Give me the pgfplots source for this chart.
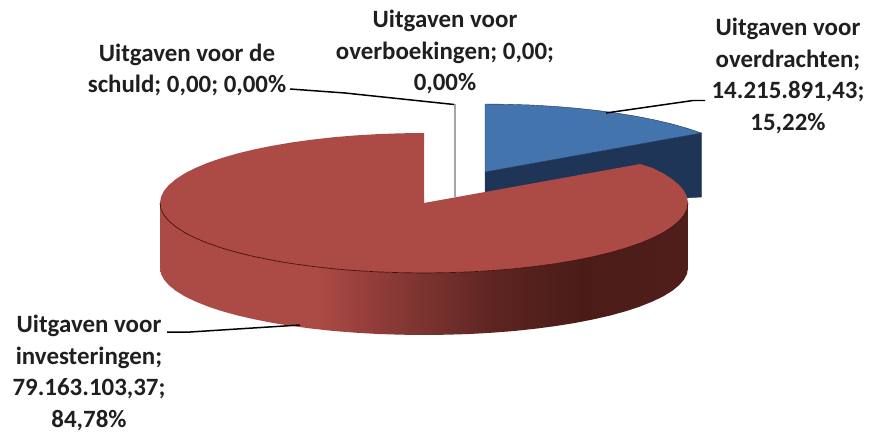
\documentclass[border=0pt]{standalone}
\usepackage{pgfplots}
\usepackage{fontspec}
\setmainfont{Carlito}
\pgfplotsset{compat=1.18}
\definecolor{redtop}{HTML}{AC4A45}
\definecolor{bluetop}{HTML}{4374AE}
\definecolor{blueside}{HTML}{1E3557}
\definecolor{w1}{RGB}{152,64,60}
\definecolor{w2}{RGB}{118,49,46}
\definecolor{w3}{RGB}{92,36,32}
\definecolor{w4}{RGB}{74,28,24}
\definecolor{w5}{RGB}{80,30,26}
\definecolor{rim}{RGB}{70,15,12}
\pgfdeclarehorizontalshading{wallshade}{100bp}{
 color(0bp)=(redtop); color(25bp)=(redtop); color(40bp)=(redtop);
 color(44bp)=(w1); color(51bp)=(w2); color(57bp)=(w3);
 color(65bp)=(w4); color(75bp)=(w5); color(100bp)=(w5)}
\newcommand{\lab}[3]{\node[font=\bfseries\fontsize{25}{31.5}\selectfont,align=center,text=black!88,inner sep=0pt,anchor=center] at (axis cs:#1,#2) {#3};}
\begin{document}
\begin{tikzpicture}
\begin{axis}[hide axis,scale only axis,width=874bp,height=432bp,
 xmin=0,xmax=874,ymin=0,ymax=432,y dir=reverse,clip=false]
% zero slices
\addplot[draw=black!35,line width=1.4pt] coordinates {(455,104)(455,197)};
% blue side
\addplot[fill=blueside,draw=blueside,line width=.4pt] coordinates {(485,172)(701.3,133)(701.3,197)(685,198)(600,215)(485,215)(485,172)};
% blue top
\addplot[fill=bluetop,draw=blueside,line width=.4pt] coordinates {(485,172)(485,104)(508,104.3)(530.8,105)(553.3,106.3)(575.3,108.1)(596.6,110.4)(617,113.1)(636.4,116.3)(654.7,119.9)(671.7,123.9)(687.2,128.3)(701.3,133)(485,172)};
% red wall
\addplot[shading=wallshade,draw=none] coordinates {(160,203)(161,209.1)(164,215.2)(169,221.1)(175.9,226.9)(184.7,232.6)(195.4,238)(207.7,243.2)(221.8,248)(237.3,252.5)(254.3,256.6)(272.6,260.3)(292,263.6)(312.4,266.4)(333.7,268.8)(355.7,270.6)(378.2,271.9)(401,272.7)(424,273)(447,272.7)(469.8,271.9)(492.3,270.6)(514.3,268.8)(535.6,266.4)(556,263.6)(575.4,260.3)(593.7,256.6)(610.7,252.5)(626.2,248)(640.3,243.2)(652.6,238)(663.3,232.6)(672.1,226.9)(679,221.1)(684,215.2)(687,209.1)(688,203)
(688,268)(687,273.8)(684,279.6)(679,285.3)(672.1,290.9)(663.3,296.3)(652.6,301.5)(640.3,306.4)(626.2,311.1)(610.7,315.4)(593.7,319.3)(575.4,322.9)(556,326)(535.6,328.7)(514.3,331)(492.3,332.7)(469.8,334)(447,334.7)(424,335)(401,334.7)(378.2,334)(355.7,332.7)(333.7,331)(312.4,328.7)(292,326)(272.6,322.9)(254.3,319.3)(237.3,315.4)(221.8,311.1)(207.7,306.4)(195.4,301.5)(184.7,296.3)(175.9,290.9)(169,285.3)(164,279.6)(161,273.8)(160,268)(160,203)};
% red top
\addplot[fill=redtop,draw=none] coordinates {(424,203)(424,133)(401,133.3)(378.2,134.1)(355.7,135.4)(333.7,137.2)(312.4,139.6)(292,142.4)(272.6,145.7)(254.3,149.4)(237.3,153.5)(221.8,158)(207.7,162.8)(195.4,168)(184.7,173.4)(175.9,179.1)(169,184.9)(164,190.8)(161,196.9)(160,203)(161,209.1)(164,215.2)(169,221.1)(175.9,226.9)(184.7,232.6)(195.4,238)(207.7,243.2)(221.8,248)(237.3,252.5)(254.3,256.6)(272.6,260.3)(292,263.6)(312.4,266.4)(333.7,268.8)(355.7,270.6)(378.2,271.9)(401,272.7)(424,273)(447,272.7)(469.8,271.9)(492.3,270.6)(514.3,268.8)(535.6,266.4)(556,263.6)(575.4,260.3)(593.7,256.6)(610.7,252.5)(626.2,248)(640.3,243.2)(652.6,238)(663.3,232.6)(672.1,226.9)(679,221.1)(684,215.2)(687,209.1)(688,203)(687,196.9)(684,190.8)(679,184.9)(672.1,179.1)(663.3,173.4)(652.6,168)(640.3,164)(424,203)};
% red top front rim
\addplot[draw=rim,line width=.7pt] coordinates {(160,203)(161,209.1)(164,215.2)(169,221.1)(175.9,226.9)(184.7,232.6)(195.4,238)(207.7,243.2)(221.8,248)(237.3,252.5)(254.3,256.6)(272.6,260.3)(292,263.6)(312.4,266.4)(333.7,268.8)(355.7,270.6)(378.2,271.9)(401,272.7)(424,273)(447,272.7)(469.8,271.9)(492.3,270.6)(514.3,268.8)(535.6,266.4)(556,263.6)(575.4,260.3)(593.7,256.6)(610.7,252.5)(626.2,248)(640.3,243.2)(652.6,238)(663.3,232.6)(672.1,226.9)(679,221.1)(684,215.2)(687,209.1)(688,203)};
% leader lines
\addplot[draw=black,line width=1.5pt] coordinates {(290,89)(345,93)(454,104.5)};
\addplot[draw=black,line width=1.5pt] coordinates {(606,113)(693,100.5)(705,100.5)};
\addplot[draw=black,line width=1.5pt] coordinates {(167,332)(190,332)(300,325)};
% labels
\lab{445}{52}{Uitgaven voor\\overboekingen; 0,00;\\0,00\%}
\lab{187}{70}{Uitgaven voor de\\schuld; 0,00; 0,00\%}
\lab{788}{76}{Uitgaven voor\\overdrachten;\\14.215.891,43;\\15,22\%}
\lab{89}{373}{Uitgaven voor\\investeringen;\\79.163.103,37;\\84,78\%}
\end{axis}
\pgfresetboundingbox
\path[use as bounding box] (current axis.south west) rectangle (current axis.north east);
\end{tikzpicture}
\end{document}
